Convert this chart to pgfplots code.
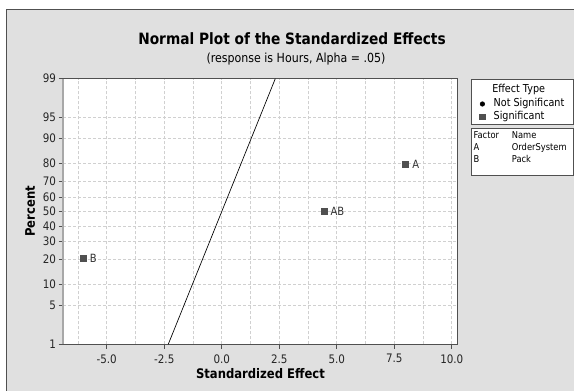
\documentclass[border=0pt]{standalone}
\usepackage{fontspec}
\setmainfont{DejaVu Sans}[FakeStretch=0.88]
\usepackage{pgfplots}
\pgfplotsset{compat=1.18}
\definecolor{panel}{HTML}{E0E0E0}
\definecolor{framec}{HTML}{505050}
\definecolor{gridc}{HTML}{D0D0D0}
\definecolor{mk}{HTML}{505050}
\definecolor{leftax}{HTML}{A8A8A8}
\pgfplotstableread{
x q lab
-6.02 -0.8206 B
4.44 0.0 AB
7.99 0.8206 A
}\effects
\begin{document}
\begin{tikzpicture}
\path[use as bounding box] (0,0) rectangle (430.5pt,293.25pt);
\fill[white] (0,0) rectangle (430.5pt,293.25pt);
\fill[panel] (4.5pt,0) rectangle (430.5pt,285.75pt);
\draw[framec,line width=0.75pt] (4.5pt,0)--(4.5pt,285.75pt)--(430.5pt,285.75pt);
% legend boxes
\draw[framec, line width=0.6pt, fill=white] (353.25pt,234pt) rectangle (429.75pt,200.25pt);
\draw[framec, line width=0.6pt, fill=white] (353.25pt,197.25pt) rectangle (429.75pt,162pt);
% title
\node[anchor=base,font=\bfseries\fontsize{11.7}{14}\selectfont] at (219pt,259.5pt) {Normal Plot of the Standardized Effects};
\node[anchor=base,font=\fontsize{9.4}{11}\selectfont] at (222pt,246pt) {(response is Hours, Alpha = .05)};
\begin{axis}[
  at={(47.5pt,35pt)}, anchor=south west,
  scale only axis, width=295.65pt, height=199.2pt,
  xmin=-6.887, xmax=10.25, ymin=-2.3263, ymax=2.3263,
  axis background/.style={fill=white},
  axis line style={framec, line width=0.6pt},
  xtick={-5,-2.5,0,2.5,5,7.5,10},
  xticklabels={-5.0,-2.5,0.0,2.5,5.0,7.5,10.0},
  minor xtick={-6.25,-3.75,-1.25,1.25,3.75,6.25,8.75},
  ytick={-2.3263,-1.6449,-1.2816,-0.8416,-0.5244,-0.2533,0,0.2533,0.5244,0.8416,1.2816,1.6449,2.3263},
  yticklabels={1,5,10,20,30,40,50,60,70,80,90,95,99},
  xtick pos=bottom, ytick pos=left, tick align=outside,
  major tick length=3.5pt, minor tick length=0pt,
  tick style={framec, line width=0.5pt},
  xmajorgrids, ymajorgrids, xminorgrids,
  grid style={gridc, dash pattern=on 2.25pt off 1.5pt, line width=0.5pt},
  minor grid style={gridc, dash pattern=on 2.25pt off 1.5pt, line width=0.5pt},
  ticklabel style={font=\fontsize{8.8}{10}\selectfont, text=black!85},
  xticklabel style={yshift=-0.5pt},
  yticklabel style={xshift=1.5pt},
  xlabel={Standardized Effect},
  ylabel={Percent},
  xlabel style={font=\bfseries\fontsize{9.9}{12}\selectfont, yshift=3pt},
  ylabel style={font=\bfseries\fontsize{9.9}{12}\selectfont, yshift=-1pt},
  clip=false,
  legend style={at={(1,1)}, anchor=north west, xshift=15.75pt, yshift=-14pt,
    draw=none, fill=none, font=\fontsize{8.2}{9}\selectfont,
    row sep=0pt, inner sep=0pt, nodes={inner sep=1pt, text height=6pt, text depth=1.5pt}},
  legend cell align=left,
  legend image code/.code={\draw[mark repeat=2,mark phase=2] plot coordinates {(0pt,0pt)(2.5pt,0pt)(5pt,0pt)}; \path (0pt,0pt) (9.75pt,0pt);},
]
\addlegendimage{only marks, mark=*, mark size=1.7pt, black}
\addlegendentry{Not Significant}
\addlegendimage{only marks, mark=square*, mark size=2pt, mk}
\addlegendentry{Significant}
\addplot[black, line width=0.5pt, forget plot] coordinates {(-2.3263,-2.3263) (2.3263,2.3263)};
\addplot[only marks, mark=square*, mark size=2.25pt, mk, forget plot,
  nodes near coords, point meta=explicit symbolic,
  every node near coord/.style={anchor=west, xshift=1.5pt, font=\fontsize{8.5}{10}\selectfont, text=black!80}]
  table[x=x, y=q, meta=lab] {\effects};
\draw[leftax, line width=1.4pt] (rel axis cs:0,0) -- (rel axis cs:0,1);
\end{axis}
\node[font=\fontsize{8.2}{9}\selectfont, anchor=base] at (389pt,224pt) {Effect Type};
\node[anchor=north west, inner sep=0pt, align=left, font=\fontsize{7.1}{9}\selectfont] at (355pt,194.5pt)
 {\makebox[28.7pt][l]{Factor}Name\\ \makebox[28.7pt][l]{A}OrderSystem\\ \makebox[28.7pt][l]{B}Pack};
\end{tikzpicture}
\end{document}
